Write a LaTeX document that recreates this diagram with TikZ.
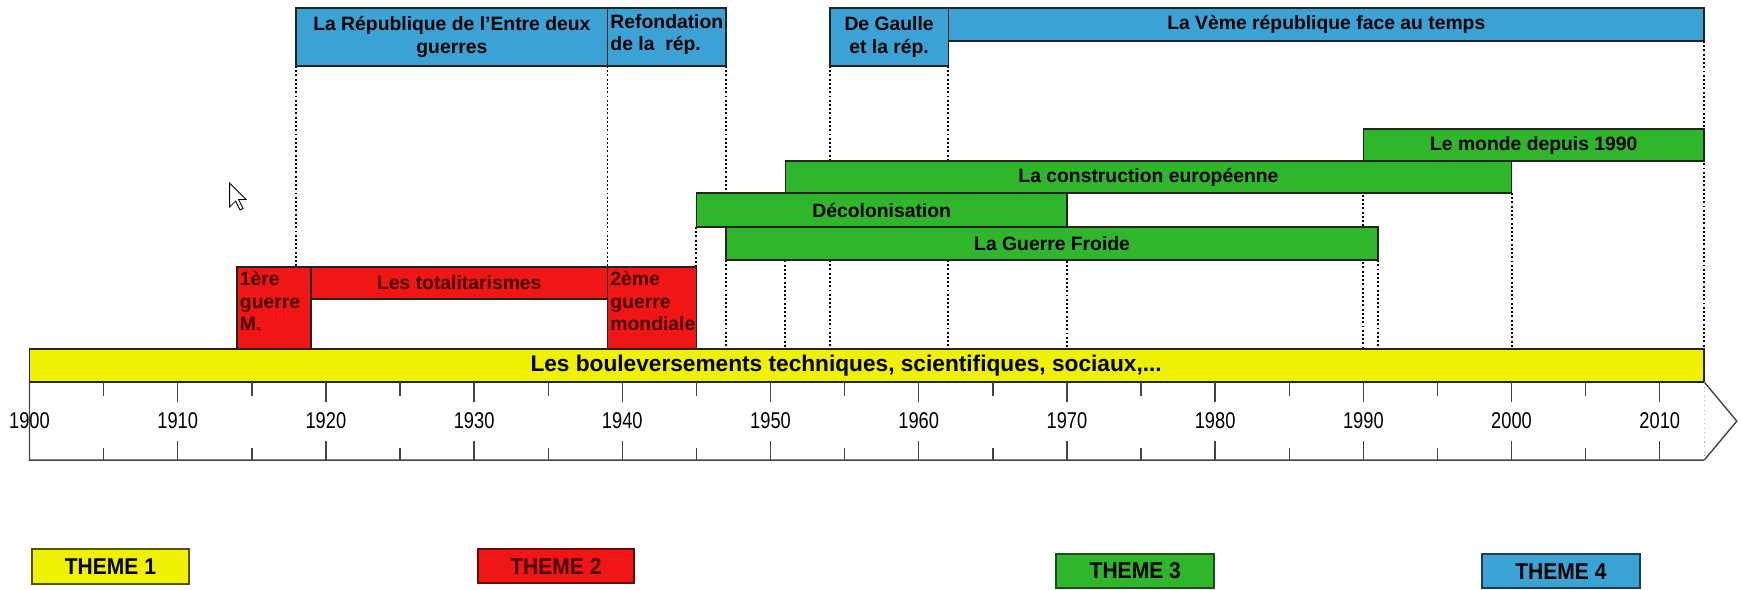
\documentclass[tikz,border=0pt]{standalone}
\usepackage{fontspec}
\setmainfont{Liberation Sans}
\newfontfamily\etroit[FakeStretch=0.8]{Liberation Sans}
\newfontfamily\legfont[FakeStretch=0.92]{Liberation Sans}
\definecolor{jaune}{RGB}{240,240,2}
\definecolor{rouge}{RGB}{240,22,22}
\definecolor{vert}{RGB}{48,182,42}
\definecolor{bleu}{RGB}{58,162,212}
\definecolor{bord}{RGB}{35,35,35}
\definecolor{texterouge}{RGB}{70,0,0}

\begin{document}
\begin{tikzpicture}[x=0.2964cm, y=-0.02cm]
    \tikzstyle{every node}=[font=\bfseries\fontsize{11}{13}\selectfont, inner sep=1.5pt]
    \tikzstyle{theme1}=[fill=jaune, draw=bord, line width=0.9pt]
    \tikzstyle{theme2}=[fill=rouge, draw=bord, line width=0.9pt]
    \tikzstyle{theme3}=[fill=vert, draw=bord, line width=0.9pt]
    \tikzstyle{theme4}=[fill=bleu, draw=bord, line width=0.9pt]
    \tikzstyle{guide}=[line width=1.1pt, dash pattern=on 1.1pt off 1.3pt]
    \tikzstyle{axe}=[draw=bord!85, line width=0.8pt]
    \tikzstyle{annee}=[font=\etroit\fontsize{13}{15}\selectfont]
    \tikzstyle{lgd}=[font=\legfont\bfseries\fontsize{13}{15}\selectfont]
    \useasboundingbox (-1.99,0) rectangle (115.55,589);
    % lignes de repere
    \draw[guide] (18,66) -- (18,267);
    \draw[guide] (39,66) -- (39,267);
    \draw[guide] (47,66) -- (47,349);
    \draw[guide] (45,227) -- (45,349);
    \draw[guide] (51,193) -- (51,349);
    \draw[guide] (54,66) -- (54,349);
    \draw[guide] (62,66) -- (62,349);
    \draw[guide] (70,227) -- (70,349);
    \draw[guide] (90,161) -- (90,349);
    \draw[guide] (91,260) -- (91,349);
    \draw[guide] (100,193) -- (100,349);
    \draw[guide] (113,41) -- (113,349);
    \draw[guide] (19,299) -- (19,349);
    % theme 4
    \filldraw[theme4] (18,8) rectangle (39,66);
    \node[align=center] (entredeux) at (28.5,37) {La République de l'Entre deux\\guerres};
    \filldraw[theme4] (39,8) rectangle (47,66);
    \node[align=left, anchor=north west] (refond) at (39,11) {Refondation\\de la\ \ rép.};
    \filldraw[theme4] (54,8) rectangle (62,66);
    \node[align=center] (degaulle) at (58,37) {De Gaulle\\et la rép.};
    \filldraw[theme4] (62,8) rectangle (113,41);
    \node (veme) at (87.5,24.5) {La Vème république face au temps};
    % theme 3
    \filldraw[theme3] (90,129) rectangle (113,161);
    \node (monde) at (101.5,145) {Le monde depuis 1990};
    \filldraw[theme3] (51,161) rectangle (100,193);
    \node (europe) at (75.5,177) {La construction européenne};
    \filldraw[theme3] (45,193) rectangle (70,227);
    \node (decolo) at (57.5,210) {Décolonisation};
    \filldraw[theme3] (47,227) rectangle (91,260);
    \node (froide) at (69,243.5) {La Guerre Froide};
    % theme 2
    \filldraw[theme2] (14,267) rectangle (19,349);
    \node[align=left, anchor=north west, text=texterouge] (guerre1) at (14,268) {1ère\\guerre\\M.};
    \filldraw[theme2] (19,267) rectangle (39,299);
    \node[text=texterouge] (totalit) at (29,283) {Les totalitarismes};
    \filldraw[theme2] (39,267) rectangle (45,349);
    \node[align=left, anchor=north west, text=texterouge] (guerre2) at (39,268) {2ème\\guerre\\mondiale};
    % theme 1
    \filldraw[theme1] (0,349) rectangle (113,382);
    \node[font=\bfseries\fontsize{12.9}{15}\selectfont] (boulev) at (55.1,365.5) {Les bouleversements techniques, scientifiques, sociaux,...};
    % axe du temps
    \draw[axe] (0,382) -- (0,460) -- (113,460) -- (115.2,421) -- (113,382);
    \draw[dotted, gray!60, line width=0.6pt] (113,382) -- (113,460);
    \foreach \a in {10,20,...,110} {
        \draw[axe] (\a,382) -- (\a,402);
        \draw[axe] (\a,441) -- (\a,460);
    }
    \foreach \a in {5,15,...,105} {
        \draw[axe] (\a,382) -- (\a,396);
        \draw[axe] (\a,448) -- (\a,460);
    }
    \foreach \a in {0,10,...,110}
        \node[annee] (an\a) at (\a,421) {\number\numexpr1900+\a\relax};
    % legende
    \filldraw[fill=jaune, draw=jaune!35!black, line width=1.1pt] (0.14,549) rectangle (10.79,584);
    \node[lgd] (leg1) at (5.46,566.5) {THEME 1};
    \filldraw[fill=rouge, draw=rouge!45!black, line width=1.1pt] (30.24,549) rectangle (40.81,583);
    \node[lgd, text=texterouge] (leg2) at (35.52,566) {THEME 2};
    \filldraw[fill=vert, draw=vert!45!black, line width=1.1pt] (69.28,554) rectangle (79.94,588);
    \node[lgd] (leg3) at (74.61,571) {THEME 3};
    \filldraw[fill=bleu, draw=bleu!40!black, line width=1.1pt] (98.02,554) rectangle (108.64,588);
    \node[lgd] (leg4) at (103.33,571) {THEME 4};
    % curseur
    \begin{scope}[shift={(13.5,183)}, x=0.02cm]
        \filldraw[fill=white, draw=black, line width=0.5pt] (0,0) -- (0,24) -- (6,18) -- (10.5,27) -- (13.5,25.5) -- (9,16.5) -- (16.5,16.5) -- cycle;
    \end{scope}
\end{tikzpicture}
\end{document}
